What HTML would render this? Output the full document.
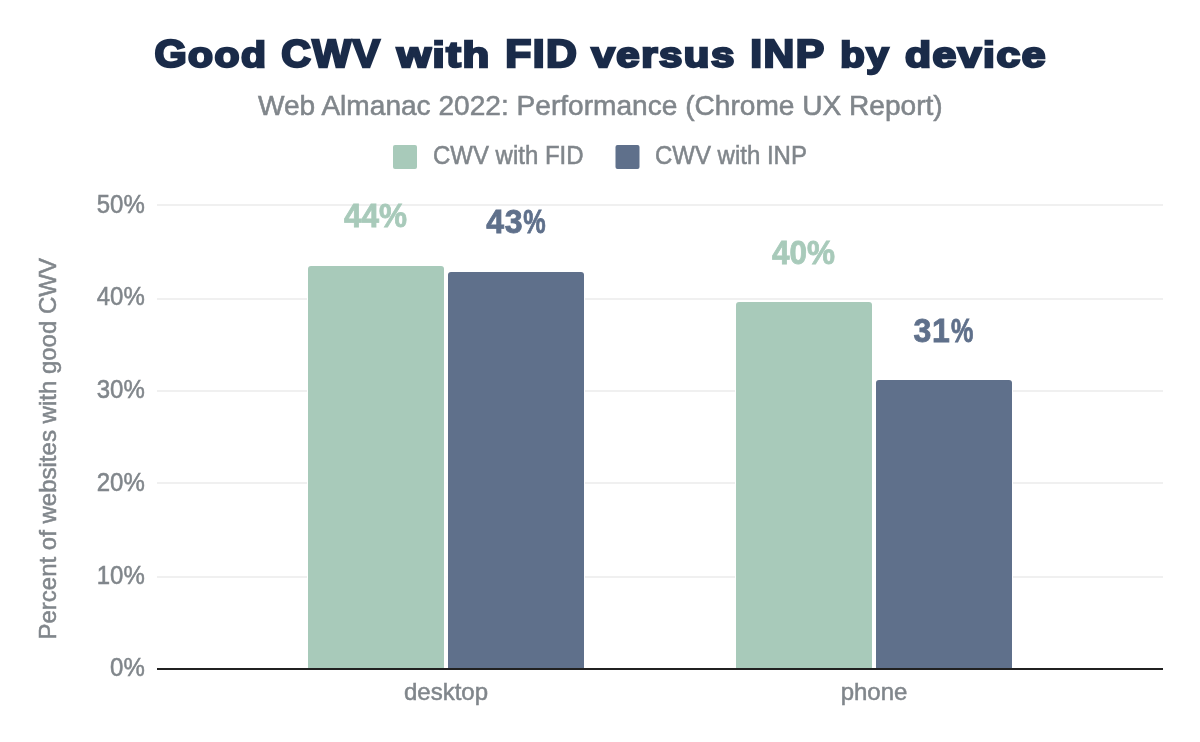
<!DOCTYPE html>
<html lang="en">
<head>
<meta charset="utf-8">
<title>Good CWV with FID versus INP by device</title>
<style>
html,body{margin:0;padding:0;background:#fff;}
body{width:1200px;height:742px;overflow:hidden;}
svg{display:block;}
text{font-family:"Liberation Sans",Arial,sans-serif;}
.g{fill:#80868b;font-size:24px;stroke:#80868b;stroke-width:0.5px;}
.lbl{font-weight:bold;font-size:32px;stroke-width:0.8px;stroke-linejoin:miter;}
</style>
</head>
<body>
<svg width="1200" height="742" viewBox="0 0 1200 742">
<rect width="1200" height="742" fill="#fff"/>
<!-- title -->
<text id="title" y="67.4" letter-spacing="1.3" font-size="38" font-weight="bold" fill="#1a2b49" stroke="#1a2b49" stroke-width="2.4" stroke-linejoin="miter" stroke-miterlimit="2.5"><tspan x="154.50" font-size="39.0" textLength="33.62" lengthAdjust="spacingAndGlyphs">G</tspan><tspan x="188.12" font-size="35.8" textLength="79.21" lengthAdjust="spacingAndGlyphs">ood</tspan> <tspan x="281.25" font-size="39.0" textLength="100.00" lengthAdjust="spacingAndGlyphs">CWV</tspan> <tspan x="397.00" font-size="35.8" textLength="93.75" lengthAdjust="spacingAndGlyphs">with</tspan> <tspan x="505.25" font-size="39.0" textLength="73.10" lengthAdjust="spacingAndGlyphs">FID</tspan> <tspan x="591.50" font-size="35.8" textLength="144.25" lengthAdjust="spacingAndGlyphs">versus</tspan> <tspan x="750.25" font-size="39.0" textLength="75.32" lengthAdjust="spacingAndGlyphs">INP</tspan> <tspan x="840.25" font-size="35.8" textLength="49.77" lengthAdjust="spacingAndGlyphs">by</tspan> <tspan x="905.00" font-size="35.8" textLength="142.01" lengthAdjust="spacingAndGlyphs">device</tspan></text>

<rect x="432.5" y="45.7" width="12" height="2.2" fill="#fff"/><rect x="982.5" y="45.7" width="12" height="2.2" fill="#fff"/>
<text id="sub" x="257.9" y="114.6" textLength="684.8" lengthAdjust="spacingAndGlyphs" font-size="28" fill="#80868b" stroke="#80868b" stroke-width="0.55">Web Almanac 2022: Performance (Chrome UX Report)</text>
<!-- legend -->
<rect x="393" y="145" width="24" height="24" rx="2" fill="#a8caba"/>
<text id="l1" class="g" transform="translate(433 164.2) scale(1 1.045)">CWV with FID</text>
<rect x="615.5" y="145" width="24" height="24" rx="2" fill="#5f708b"/>
<text id="l2" class="g" transform="translate(655 164.2) scale(1 1.045)">CWV with INP</text>
<!-- gridlines -->
<g fill="#f0f0f0">
<rect x="157" y="204" width="1006" height="2"/>
<rect x="157" y="298" width="1006" height="2"/>
<rect x="157" y="390" width="1006" height="2"/>
<rect x="157" y="482" width="1006" height="2"/>
<rect x="157" y="576" width="1006" height="2"/>
</g>
<!-- y labels -->
<g class="g" text-anchor="end">
<text transform="translate(144.8 213) scale(1 1.045)">50%</text>
<text transform="translate(144.8 305) scale(1 1.045)">40%</text>
<text transform="translate(144.8 398) scale(1 1.045)">30%</text>
<text transform="translate(144.8 491) scale(1 1.045)">20%</text>
<text transform="translate(144.8 583.5) scale(1 1.045)">10%</text>
<text transform="translate(144.8 676) scale(1 1.045)">0%</text>
</g>
<!-- bars -->
<g stroke="#fff" stroke-width="2" paint-order="stroke">
<rect x="443" y="272" width="6" height="396" fill="#fff" fill-opacity="0.9"/>
<rect x="871" y="380" width="6" height="288" fill="#fff" fill-opacity="0.9"/>
<path d="M308 668V269a3 3 0 0 1 3-3h130a3 3 0 0 1 3 3V668z" fill="#a8caba"/>
<path d="M448 668V275a3 3 0 0 1 3-3h130a3 3 0 0 1 3 3V668z" fill="#5f708b"/>
<path d="M736 668V305a3 3 0 0 1 3-3h130a3 3 0 0 1 3 3V668z" fill="#a8caba"/>
<path d="M876 668V383a3 3 0 0 1 3-3h130a3 3 0 0 1 3 3V668z" fill="#5f708b"/>
</g>
<!-- axis -->
<rect x="157" y="668" width="1006" height="2" fill="#212121"/>
<!-- data labels -->
<text class="lbl" transform="translate(344.00 227.00) scale(1 1.05)" textLength="63.00" lengthAdjust="spacingAndGlyphs" fill="#a8caba" stroke="#a8caba">44%</text>
<text class="lbl" transform="translate(0 233.2) scale(1 1.05)" fill="#5f708b" stroke="#5f708b"><tspan x="486.2" letter-spacing="0.7">43</tspan><tspan x="523.3" textLength="22.4" lengthAdjust="spacingAndGlyphs">%</tspan></text>
<text class="lbl" transform="translate(772.00 264.00) scale(1 1.05)" textLength="63.00" lengthAdjust="spacingAndGlyphs" fill="#a8caba" stroke="#a8caba">40%</text>
<text class="lbl" transform="translate(0 342.3) scale(1 1.05)" fill="#5f708b" stroke="#5f708b"><tspan x="913.4" letter-spacing="0.9">31</tspan><tspan x="951.0" textLength="22.4" lengthAdjust="spacingAndGlyphs">%</tspan></text>
<!-- x labels -->
<text class="g" transform="translate(446 700)" text-anchor="middle">desktop</text>
<text class="g" transform="translate(874 700)" text-anchor="middle">phone</text>
<!-- y title -->
<text class="g" transform="translate(56 448.8) rotate(-90)" text-anchor="middle">Percent of websites with good CWV</text>
</svg>
</body>
</html>
